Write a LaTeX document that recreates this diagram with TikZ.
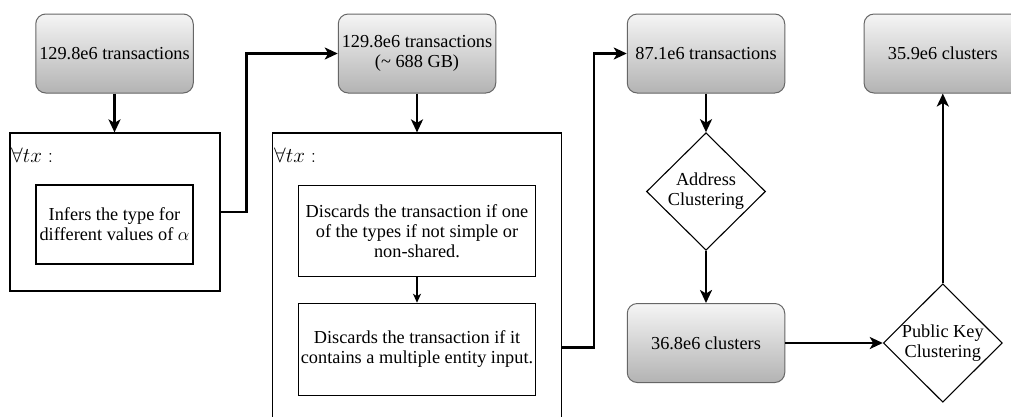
\RequirePackage{fix-cm}
\documentclass[tikz,border=0pt]{standalone}
\usepackage{fontspec}
\setmainfont{Liberation Serif}
\usetikzlibrary{arrows.meta,shapes.geometric,calc}
\definecolor{boxtop}{HTML}{F5F5F5}
\definecolor{boxbot}{HTML}{B3B3B3}
\definecolor{boxline}{HTML}{666666}
\tikzset{
  every node/.style={font=\fontsize{18.3}{20}\selectfont, inner sep=0pt},
  stage/.style={draw=boxline, line width=1pt, rounded corners=10pt,
    top color=boxtop, bottom color=boxbot, shading angle=0,
    minimum width=157.5pt, minimum height=79pt, align=center},
  frame/.style={draw=black, line width=1.2pt, fill=white},
  task/.style={draw=black, line width=1.1pt, fill=white, align=center},
  choice/.style={diamond, draw=black, line width=1.1pt, fill=white,
    minimum width=119pt, minimum height=117.5pt, align=center},
  quant/.style={anchor=west, font=\fontsize{21}{25}\selectfont},
  flow/.style={line width=2.6pt, -{Stealth[length=13pt, width=12pt, inset=3.5pt]}},
  substep/.style={line width=1.5pt, -{Stealth[length=9pt, width=8pt, inset=2.5pt]}},
}
\begin{document}
\begin{tikzpicture}[x=1pt, y=-1pt]
\useasboundingbox (0,0) rectangle (1011,416);
\clip (0,0) rectangle (1011,416);
\fill[white] (0,0) rectangle (1011,416);

% first pass: type inference
\node[stage] (A) at (114.5,53.5) {129.8e6 transactions};
\node[frame, minimum width=210pt, minimum height=158pt] (O1) at (115,212) {};
\node[quant] (Q1) at (11,155.5) {$\forall tx :$};
\node[task, minimum width=157pt, minimum height=79pt] (I1) at (114.5,224.5)
  {Infers the type for\\ different values of $\alpha$};

% second pass: filtering
\node[stage] (B) at (417,53.5) {129.8e6 transactions\\ (\textasciitilde{} 688 GB)};
\node[frame, minimum width=289pt, minimum height=300pt] (O2) at (417.2,283) {};
\node[quant] (Q2) at (274,155.5) {$\forall tx :$};
\node[task, minimum width=236.6pt, minimum height=91pt] (I2a) at (417,231.2)
  {Discards the transaction if one\\ of the types if not simple or\\ non-shared.};
\node[task, minimum width=236.6pt, minimum height=92.4pt] (I2b) at (417,349.5)
  {Discards the transaction if it\\ contains a multiple entity input.};

% clustering
\node[stage] (C) at (706,53.5) {87.1e6 transactions};
\node[choice] (D1) at (706,191.5) {Address\\ Clustering};
\node[stage] (D) at (706,343) {36.8e6 clusters};
\node[choice] (D2) at (942.8,343) {Public Key\\ Clustering};
\node[stage] (E) at (942.8,53.5) {35.9e6 clusters};

% connectors
\coordinate (o1out) at (O1.east);
\coordinate (o2out) at (561.7,347.7);
\draw[flow] (A.south) -- (A.south |- O1.north);
\draw[flow] (o1out) -- ++(26,0) |- (B.west);
\draw[flow] (B.south) -- (B.south |- O2.north);
\draw[substep] (I2a.south) -- (I2b.north);
\draw[flow] (o2out) -- ++(32.3,0) |- (C.west);
\draw[flow] (C.south) -- (D1.north);
\draw[flow] (D1.south) -- (D.north);
\draw[flow] (D.east) -- (D2.west);
\draw[flow] (D2.north) -- (E.south);
\end{tikzpicture}
\end{document}
